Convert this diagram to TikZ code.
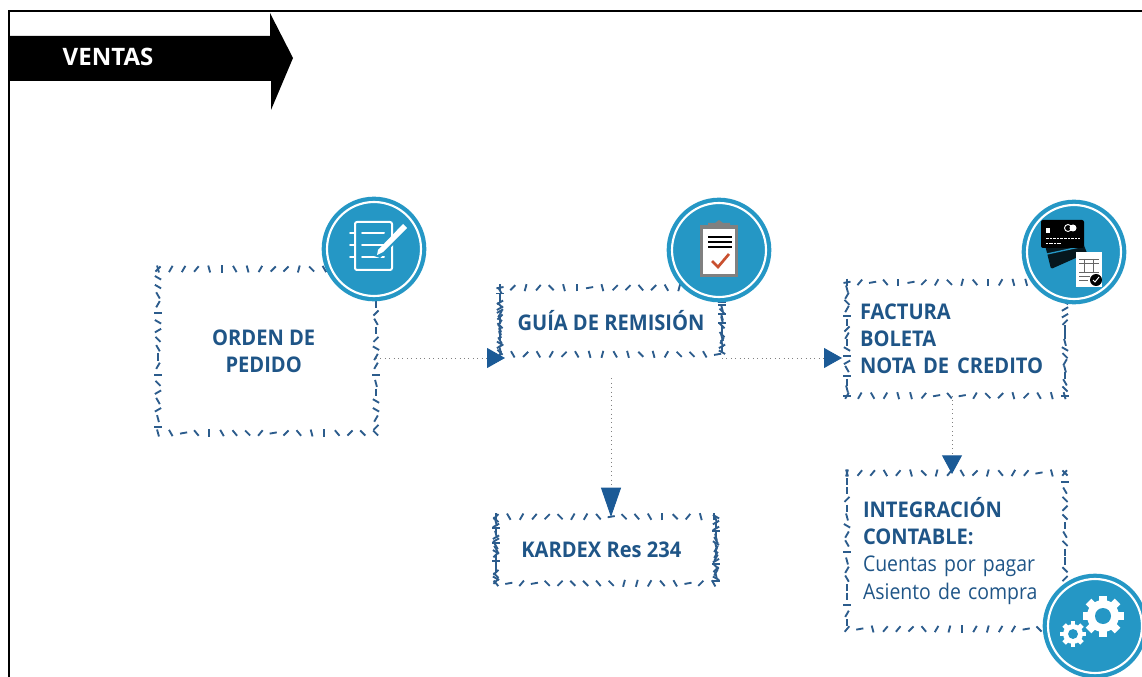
\documentclass[tikz,border=0pt]{standalone}
\usepackage{fontspec}
\setmainfont{Open Sans}[FakeStretch=0.9,BoldFeatures={FakeStretch=0.93}]
\newfontfamily\ventasfont{Open Sans}
\usetikzlibrary{arrows.meta,decorations.markings}

\definecolor{inkblue}{HTML}{1F5587}
\definecolor{tickblue}{HTML}{2C5C8C}
\definecolor{badgeblue}{HTML}{2597C5}
\definecolor{tipblue}{HTML}{1B5A96}
\definecolor{checkred}{HTML}{C9502F}

\tikzset{every picture/.style={line width=0.75pt}}
\tikzset{
	hatchbox/.style={inner sep=0pt,outer sep=0pt,text=inkblue,font=\fontsize{16.2}{20.3}\selectfont\bfseries},
	hatchtick/.style={draw=tickblue,line width=1.4pt},
	hatch/.style={decorate,decoration={markings,mark=between positions 0 and 1 step #1 with {
		\pgfmathsetmacro{\tickangle}{{90,75,105,60,120,50,130,45,135,10}[int(random(0,9))]}
		\draw[hatchtick,rotate=\tickangle] (-2.7pt,0pt) -- (2.7pt,0pt);}}},
	sidehatch/.style={decorate,decoration={markings,mark=between positions 0 and 1 step #1 with {
		\pgfmathsetmacro{\tickangle}{{0,0,30,-30,45,-45,60,-60,90,15}[int(random(0,9))]}
		\draw[hatchtick,rotate=\tickangle] (-2.7pt,0pt) -- (2.7pt,0pt);}}},
	badge/.style={circle,minimum size=70.5pt,inner sep=0pt,outer sep=0pt,fill=badgeblue,draw=white,line width=1.6pt,
		preaction={draw=badgeblue,line width=8pt}},
	flowline/.style={draw=gray,line width=0.7pt,dash pattern=on 0.7pt off 2.6pt},
	flowtip/.style={-{Triangle[color=tipblue,length=#1,width=15pt]}},
	gear/.pic={
		\fill[white] (0,0) circle (16);
		\foreach \toothangle in {0,45,...,315}{
			\fill[white,rotate=\toothangle] (-4,-20.5) rectangle (4,0);
		}
		\fill[badgeblue] (0,0) circle (8);
	}
}

\begin{document}
\begin{tikzpicture}[x=0.75pt,y=0.75pt,yscale=-1,xscale=1]
	\useasboundingbox (0,0) rectangle (1142,677);
	\pgfmathsetseed{1142}

	%Shape: Frame
	\draw [line width=2.1pt] (1142,11) -- (9,11) -- (9,677) ;
	%Shape: Banner
	\fill (9,36) -- (270,36) -- (270,13) -- (293,58) -- (271,110) -- (271,81) -- (9,81) -- cycle ;

	% Text Node
	\draw (108,57) node [text=white,font=\ventasfont\fontsize{18}{20}\selectfont\bfseries] (ventas) {VENTAS};

	% Text Node
	\draw (267,351) node [hatchbox,minimum width=163.5pt,minimum height=123pt,align=center] (orden) {ORDEN DE\hspace*{5pt}\\PEDIDO\hspace*{5pt}};
	\draw (611,321) node [hatchbox,minimum width=166.5pt,minimum height=50pt,align=center] (guia) {GUÍA DE REMISIÓN};
	\draw (956,339) node [hatchbox,minimum width=163.5pt,minimum height=85pt,text width=144pt,align=left] (factura) {FACTURA\\BOLETA\\NOTA DE\hspace{6pt}CREDITO};
	\draw (956,551) node [hatchbox,minimum width=163.5pt,minimum height=117pt,text width=139.5pt,align=left] (integ) {INTEGRACIÓN\\CONTABLE:\\{\mdseries Cuentas por pagar}\\{\mdseries Asiento de compra}};
	\draw (606,550) node [hatchbox,minimum width=165pt,minimum height=50pt,align=center] (kardex) {KARDEX Res 234\hspace*{7pt}};

	%Shape: Hatched edges
	\foreach \boxname/\sidestep in {orden/6.6pt,guia/2.2pt,factura/5pt,integ/6.6pt,kardex/2.2pt}{
		\path [hatch=9.6pt] (\boxname.north west) -- (\boxname.north east) ;
		\path [hatch=9.6pt] (\boxname.south west) -- (\boxname.south east) ;
		\path [sidehatch=\sidestep] (\boxname.north west) -- (\boxname.south west) ;
		\path [sidehatch=\sidestep] (\boxname.north east) -- (\boxname.south east) ;
	}

	\coordinate (guiain) at (505,358);
	\coordinate (facturain) at (842,358);
	\coordinate (kardexin) at (611,517);
	\coordinate (integin) at (952,474);

	%Straight Lines
	\draw [flowline,flowtip=13.5pt] (orden.east |- guiain) -- (guiain) ;
	\draw [flowline,flowtip=13.5pt] (guia.east |- facturain) -- (facturain) ;
	\draw [flowline,flowtip=22pt,shorten <=18pt] (kardexin |- guia.south) -- (kardexin) ;
	\draw [flowline,flowtip=14pt] (integin |- factura.south) -- (integin) ;

	%Shape: Circle
	\draw (374,249) node [badge] (notebadge) {};
	\draw (719,250) node [badge] (clipbadge) {};
	\draw (1074,252) node [badge] (cardbadge) {};
	\draw (1095,626) node [badge] (gearbadge) {};

	%Shape: Notepad icon
	\draw [white,line width=1.5pt,rounded corners=1.5pt] (355,222) rectangle (392,270) ;
	\foreach \liney in {233,245,257}{
		\draw [white,line width=1.5pt,line cap=round] (350,\liney) -- (355,\liney) (362,\liney) -- (384,\liney) ;
	}
	\fill [badgeblue] (374,256) -- (405,222) -- (411,227) -- (380,258) -- cycle ;
	\fill [white] (378,250) -- (403,224) -- (407,228) -- (383,252) -- (377,255) -- cycle ;

	%Shape: Clipboard icon
	\fill [gray] (700,225) rectangle (738,277) ;
	\fill [gray] (708,223) -- (715,223) -- (719,220) -- (723,223) -- (730,223) -- (730,230) -- (708,230) -- cycle ;
	\fill [white] (703,229) rectangle (735,274) ;
	\foreach \liney in {237,242,247}{
		\draw [black,line width=1.3pt] (708,\liney) -- (732,\liney) ;
	}
	\draw [checkred,line width=2pt] (712,261) -- (718,267) -- (729,254) ;

	%Shape: Cards icon
	\fill [black!85!badgeblue,rounded corners=1pt] (1045,245) -- (1083,243) -- (1087,253) -- (1051,269) -- cycle ;
	\draw [badgeblue,line width=1pt] (1047,254) -- (1084,246) ;
	\fill [black,rounded corners=1.5pt] (1041,220) rectangle (1084,248) ;
	\fill [white] (1046,228) rectangle (1050,233) ;
	\draw [white,line width=0.7pt] (1068,228) circle (3.5) ;
	\fill [white] (1073,228) circle (3.5) ;
	\draw [white,line width=0.7pt,dash pattern=on 2pt off 0.7pt] (1046,238) -- (1080,238) ;
	\draw [white,line width=0.7pt,dash pattern=on 1.5pt off 0.5pt] (1046,243) -- (1062,243) ;
	\fill [white] (1076,252) rectangle (1102,287) ;
	\draw [black!60,line width=0.7pt] (1079,259) -- (1099,259) (1079,263) -- (1099,263) (1079,272) -- (1099,272) (1079,276) -- (1090,276) (1079,280) -- (1088,280) ;
	\draw [black!60,line width=0.5pt] (1084,259) -- (1084,272) (1093,259) -- (1093,272) ;
	\fill [black] (1096,280) circle (6) ;
	\draw [white,line width=0.7pt] (1093,280) -- (1095,282) -- (1099,277) ;

	%Shape: Gears icon
	\path (1103,616) pic {gear} ;
	\path (1073,634) pic [scale=0.62] {gear} ;

\end{tikzpicture}
\end{document}
